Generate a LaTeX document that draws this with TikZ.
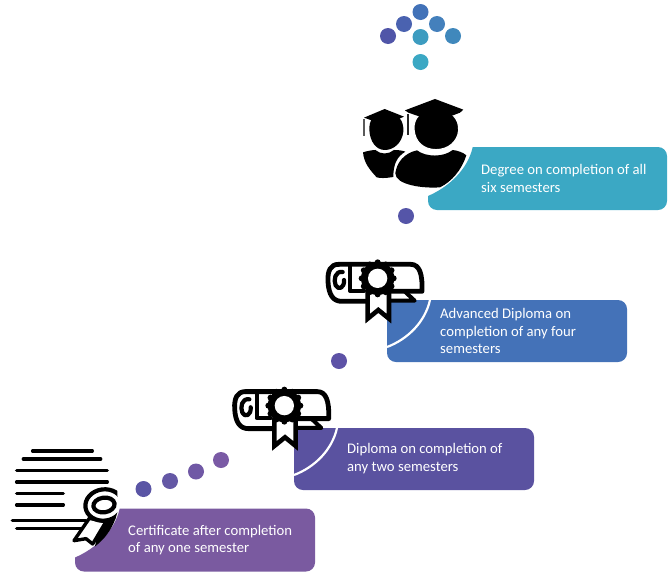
\documentclass[tikz,border=0pt]{standalone}
\usepackage{fontspec}
\setmainfont{Carlito}
\definecolor{cteal}{HTML}{3BA8C4}
\definecolor{cblue}{HTML}{4472B8}
\definecolor{cindigo}{HTML}{5A52A0}
\definecolor{cpurple}{HTML}{7A5AA0}
\definecolor{da}{HTML}{4272B8}
\definecolor{db}{HTML}{4A62B0}
\definecolor{dc}{HTML}{4480BC}
\definecolor{dd}{HTML}{5055A8}
\definecolor{de}{HTML}{4088BC}
\definecolor{df}{HTML}{3D9CC0}
\definecolor{dg}{HTML}{5555A8}
\definecolor{dh}{HTML}{5D52A6}
\definecolor{di}{HTML}{5A55A5}
\definecolor{dj}{HTML}{6458A5}
\definecolor{dk}{HTML}{7058A5}
\definecolor{dl}{HTML}{7A5AA5}
\tikzset{
  dot/.style={circle,inner sep=0pt,minimum size=16pt,fill=#1},
  cardtext/.style={anchor=west,align=left,text=white,inner sep=0pt,font=\fontsize{14.7}{17.5}\selectfont},
  ink/.style={draw=black,line join=round,line cap=round},
}
% rounded card; #1 = x of left edge, #2 = y of top edge, #3 colour, #4 width
\newcommand{\cardnotched}[4]{%
  \begin{scope}[shift={(#1,#2)}]
    \fill[#3] (44.7,0) [rounded corners=9pt] -- (#4,0) -- (#4,63) -- (0,63) [sharp corners] -- (0,49)
      .. controls (21,40) and (40,22) .. (44.7,0) -- cycle;
  \end{scope}}
\newcommand{\cardlined}[3]{%
  \begin{scope}[shift={(#1,#2)}]
    \fill[#3] (0,0) [rounded corners=9pt] -- (240,0) -- (240,62) -- (0,62) [sharp corners] -- cycle;
    \draw[white,line width=2.2pt] (43,0) .. controls (38,22) and (21,39) .. (0,47);
  \end{scope}}
\newcommand{\scrollicon}[2]{%
  \begin{scope}[shift={(#1,#2)},x=.3333pt,y=-.3333pt]
    % tail under the right end
    \draw[ink,line width=4pt] (556,126) -- (584,152) -- (512,152);
    % outer outline of the scroll
    \draw[ink,line width=4.8pt] (356,43) -- (572,43) .. controls (598,43) and (608,70) .. (606,124) -- (510,124);
    \draw[ink,line width=4.8pt] (356,43) .. controls (332,43) and (322,62) .. (324,95)
       .. controls (326,135) and (340,154) .. (365,154) -- (440,154);
    % inner spiral
    \draw[ink,line width=4.2pt] (368,66) .. controls (345,62) and (340,90) .. (347,106)
       .. controls (355,122) and (374,114) .. (372,90);
    \draw[ink,line width=4.2pt] (390,45) -- (390,122) -- (432,122);
    % ribbon
    \draw[ink,line width=4.6pt,fill=white,miter limit=10,line join=miter] (443,125) -- (443,206) -- (475,180) -- (507,206) -- (507,125);
    % rosette
    \foreach \a in {0,30,...,330}{\fill[black] (473,85)++(\a:48) circle[radius=9];}
    \fill[black] (473,85) circle[radius=50];
    \fill[white] (473,85) circle[radius=29];
  \end{scope}}
\begin{document}
\begin{tikzpicture}[x=1pt,y=-1pt]
\useasboundingbox (0,0) rectangle (669,573);
% top arrow of dots
\node[dot=da] (d1) at (420.5,12) {};
\node[dot=db] (d2) at (404,24) {};
\node[dot=dc] (d3) at (437,24) {};
\node[dot=dd] (d4) at (388,36) {};
\node[dot=de] (d5) at (453,36) {};
\node[dot=df] (d6) at (420.5,37) {};
\node[dot=cteal] (d7) at (420.5,62) {};
% single dots
\node[dot=dg] (d8) at (406,216) {};
\node[dot=dh] (d9) at (339,361) {};
\node[dot=di] (d10) at (143.5,489) {};
\node[dot=dj] (d11) at (170,481) {};
\node[dot=dk] (d12) at (196,471.5) {};
\node[dot=dl] (d13) at (221,460) {};
% cards
\cardnotched{428}{147}{cteal}{239}
\cardlined{387}{300}{cblue}
\cardlined{294}{428}{cindigo}
\cardnotched{75}{508.5}{cpurple}{240}
% card text
\node[cardtext] (t1) at (481,178.5) {Degree on completion of all\\six semesters};
\node[cardtext] (t2) at (440,331) {Advanced Diploma on\\completion of any four\\semesters};
\node[cardtext] (t3) at (347,458.5) {Diploma on completion of\\any two semesters};
\node[cardtext] (t4) at (128,540) {Certificate after completion\\of any one semester};
% graduates icon (zoom coordinates: origin 340,0)
\begin{scope}[shift={(340,0)},x=.3333pt,y=-.3333pt]
  % small figure
  \fill[black] (137,340) .. controls (175,340) and (192,360) .. (190,395)
     .. controls (186,430) and (160,450) .. (135,450) .. controls (108,450) and (90,425) .. (88,390)
     .. controls (87,360) and (100,340) .. (137,340) -- cycle;
  \fill[black] (72,353) -- (134,327) -- (192,350) -- (134,375) -- cycle;
  \draw[black!65,line width=2.2pt] (72,356) -- (72,408);
  \fill[black] (69,457) .. controls (85,452) and (100,450) .. (106,450) .. controls (122,464) and (145,464) .. (162,450)
     .. controls (172,450) and (185,451) .. (196,455) .. controls (172,470) and (160,490) .. (160,531)
     .. controls (135,535) and (120,535) .. (110,532) .. controls (90,510) and (72,490) .. (69,457) -- cycle;
  % large figure
  \fill[black,draw=white,line width=1.2pt] (287,330) .. controls (335,330) and (358,355) .. (356,392)
     .. controls (353,425) and (325,449) .. (288,449) .. controls (250,449) and (224,425) .. (222,388)
     .. controls (220,355) and (240,330) .. (287,330) -- cycle;
  \fill[black] (195,331) -- (285,297) -- (370,329) -- (360,338) -- (287,366) -- (205,338) -- cycle;
  \draw[black!85,line width=2.4pt] (204,342) -- (204,405);
  \fill[black] (166,520) .. controls (170,490) and (190,460) .. (231,451) .. controls (258,472) and (312,472) .. (338,450)
     .. controls (355,452) and (370,458) .. (379,466) .. controls (365,510) and (335,545) .. (300,562)
     .. controls (250,566) and (166,555) .. (166,520) -- cycle;
\end{scope}
% scroll icons
\scrollicon{220}{250}
\scrollicon{126.7}{377.3}
% certificate icon (zoom coordinates: origin 0,440)
\begin{scope}[shift={(0,440)},x=.3333pt,y=-.3333pt]
  \tikzset{cline/.style={draw=black,line width=3.4pt,line cap=round}}
  \draw[cline] (98,33) -- (277,33);
  \draw[cline] (70,57) -- (302,57);
  \draw[cline] (50,92) -- (322,92);
  \draw[cline] (50,126) -- (322,126);
  \draw[cline] (50,160) -- (190,160);
  \draw[cline] (50,195) -- (190,195);
  \draw[cline] (37,242) -- (258,242);
  \draw[cline] (50,265) -- (250,265);
  \begin{scope}
    \clip (200,100) -- (350,100) -- (354,208) .. controls (342,270) and (300,325) .. (226,350) -- (200,350) -- cycle;
    \fill[black] (300,235) -- (350,225) -- (340,300) -- (285,320) -- cycle;
    \draw[ink,line width=3.4pt,fill=white] (268,235) -- (222,302) -- (258,296) -- (278,312) -- (318,245) -- cycle;
    \draw[black,line width=4.2pt,fill=white,rotate around={8:(312,195)}] (312,195) ellipse[x radius=56,y radius=47];
    \draw[black,line width=4.2pt,fill=white,rotate around={8:(312,195)}] (312,195) ellipse[x radius=32,y radius=22];
  \end{scope}
\end{scope}
\end{tikzpicture}
\end{document}
